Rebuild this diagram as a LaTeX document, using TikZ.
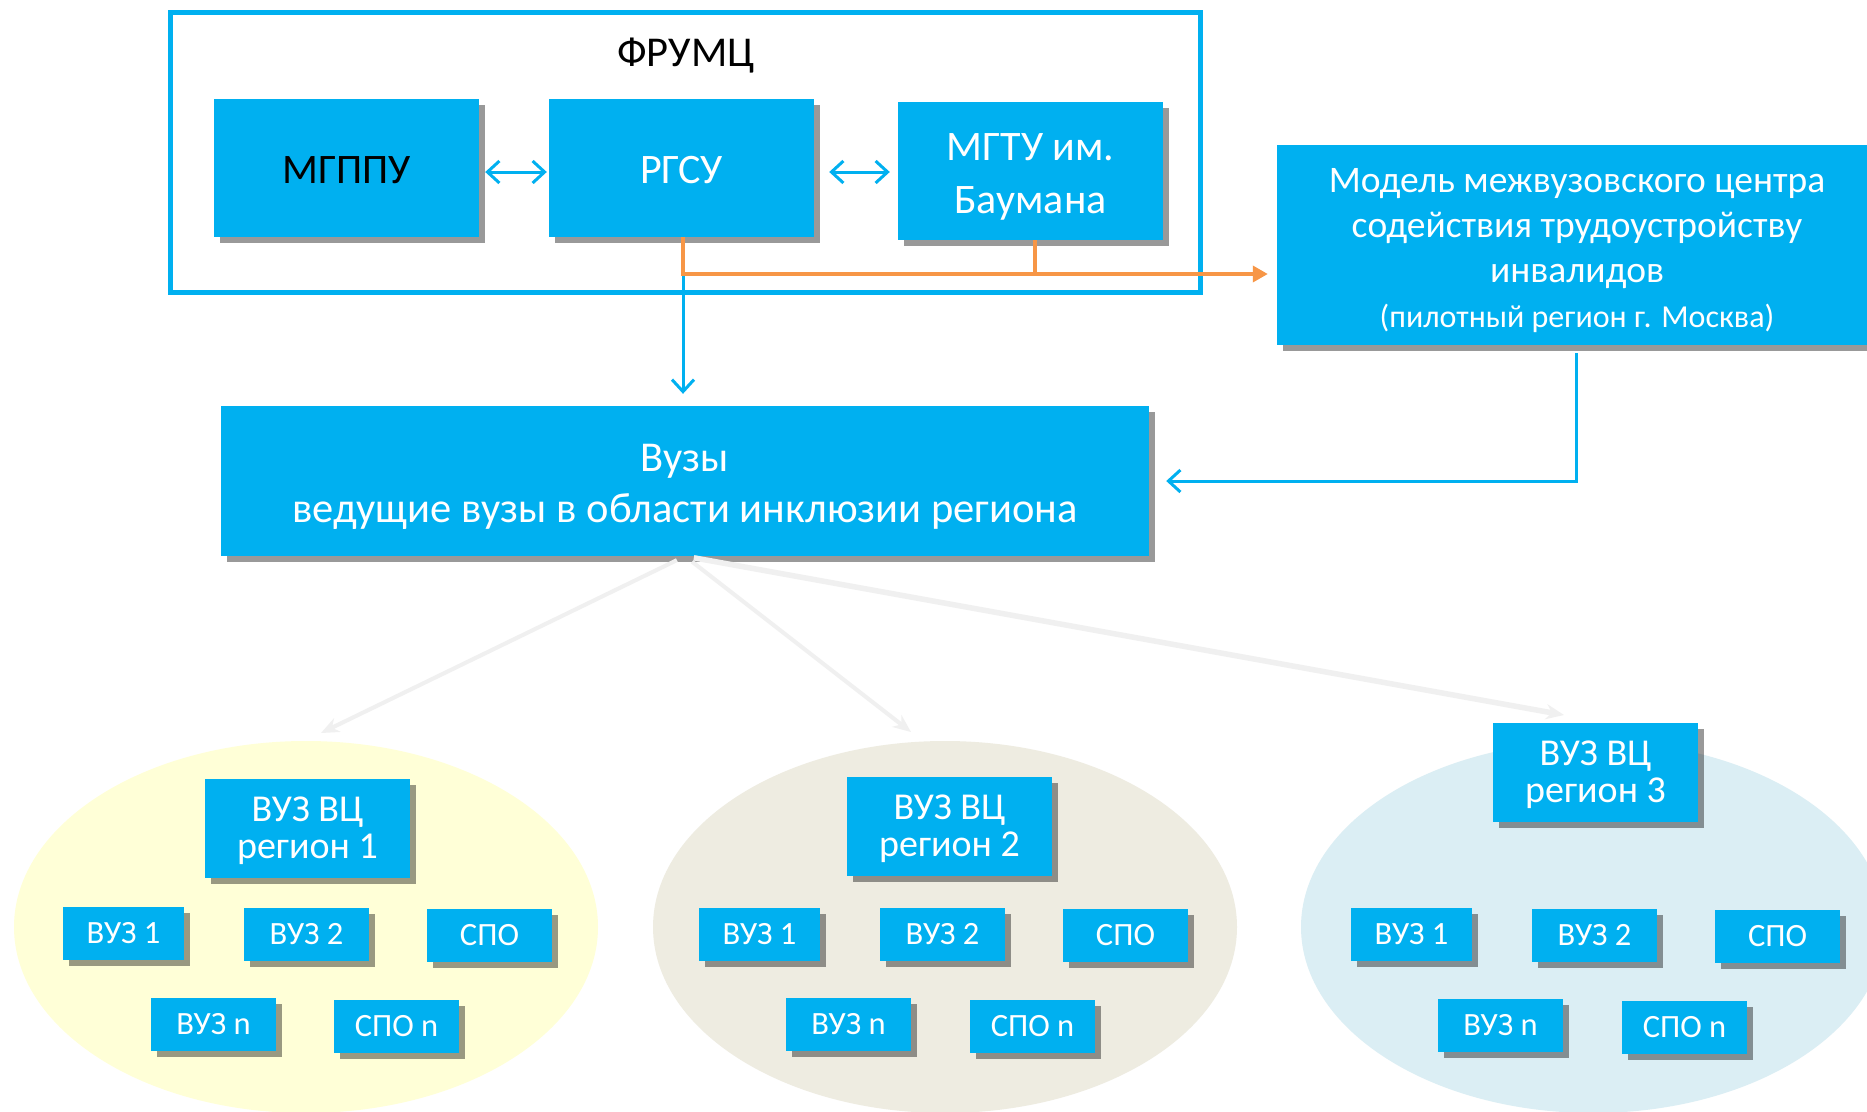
\documentclass[tikz,border=0pt]{standalone}
\usepackage{fontspec}
\setmainfont{Carlito}
\usetikzlibrary{arrows.meta,shadows,shapes.geometric}
\definecolor{boxblue}{HTML}{00B0F0}
\definecolor{orng}{HTML}{F79646}
\definecolor{ltgray}{HTML}{F0F0F0}
\definecolor{ellY}{HTML}{FFFFD7}
\definecolor{ellB}{HTML}{EEECE1}
\definecolor{ellC}{HTML}{DBEEF4}
\newcommand\fsz[2]{\fontsize{#1}{#2}\selectfont}
\newcommand\upstrut[1]{\rule{0pt}{#1}}
\begin{document}
\begin{tikzpicture}[x=1pt,y=-1pt,
 bbox/.style={fill=boxblue, inner sep=0pt, text=white, align=center,
   drop shadow={shadow xshift=6pt,shadow yshift=-6pt,fill=black,opacity=0.4}},
 smallbox/.style={bbox, minimum width=125pt, minimum height=53pt, font=\fsz{32.5}{38}},
 vcbox/.style={bbox, minimum width=205pt, minimum height=99pt, font=\fsz{38}{37}},
 unibox/.style={bbox, minimum width=265pt, minimum height=138pt, font=\fsz{42}{53}},
 regell/.style={ellipse, inner sep=0pt, minimum width=584pt, minimum height=372pt},
 blueline/.style={draw=boxblue, line width=3pt},
 barb/.style={-{Straight Barb[length=12pt,width=22pt,line width=3pt]}},
 dbl/.style={{Straight Barb[length=12pt,width=22pt,line width=3pt]}-{Straight Barb[length=12pt,width=22pt,line width=3pt]}},
 orline/.style={draw=orng, line width=3.5pt},
 grayarrow/.style={draw=ltgray, -{Stealth[length=18pt,width=15pt]}}
]
\useasboundingbox (0,0) rectangle (1867,1111);
\fill[white] (0,0) rectangle (1867,1111);
\clip (0,0) rectangle (1867,1111);

% region ellipses
\node[regell, fill=ellY] (reg1) at (306,927) {};
\node[regell, fill=ellB] (reg2) at (945,927) {};
\node[regell, fill=ellC] (reg3) at (1593,927) {};

% ФРУМЦ frame
\node[draw=boxblue, line width=5pt, minimum width=1030pt, minimum height=280pt, inner sep=0pt] (frame) at (685,152) {};
\node[font=\fsz{42.5}{50}, text=black] (frumc) at (686,56) {ФРУМЦ};

\node[unibox, text=black] (mgppu) at (346.5,168) {\upstrut{31pt}МГППУ};
\node[unibox] (rgsu) at (681.5,168) {\upstrut{31pt}РГСУ};
\node[unibox] (mgtu) at (1030.5,171) {\upstrut{38.5pt}МГТУ им.\\Баумана};

\node[bbox, minimum width=600pt, minimum height=200pt, font=\fsz{37.5}{45}] (model) at (1577,245)
 {\upstrut{36pt}Модель межвузовского центра\\содействия трудоустройству\\инвалидов\\{\fsz{32}{43}(пилотный регион г. Москва)}};

\node[bbox, minimum width=928pt, minimum height=150pt, font=\fsz{42.5}{51}] (vuzy) at (685,481)
 {\upstrut{39pt}Вузы\\ведущие вузы в области инклюзии региона};

% connectors at top
\draw[blueline, dbl, shorten <=6pt, shorten >=2pt] ([yshift=-4pt]mgppu.east) -- ([yshift=-4pt]rgsu.west);
\draw[blueline, dbl, shorten <=15pt, shorten >=8pt] ([yshift=-4pt]rgsu.east) -- ([yshift=-1pt]mgtu.west);
\draw[blueline, barb, shorten >=12pt] ([xshift=1.5pt]rgsu.south) -- ([xshift=1.5pt]rgsu.south |- vuzy.north);
\path ([yshift=-29pt]model.west) coordinate (obus);
\draw[orline, -{Triangle[length=15pt,width=16pt]}, shorten >=9pt] ([xshift=1.5pt]rgsu.south) |- (obus);
\draw[orline] ([xshift=4.5pt]mgtu.south) -- ([xshift=4.5pt]mgtu.south |- obus);
\draw[blueline, barb, shorten <=8pt, shorten >=17pt] ([xshift=-1pt]model.south) |- (vuzy.east);

% gray arrows to regions
\coordinate (t1) at (321,733);
\coordinate (t2) at (911,732);
\coordinate (t3) at (1564,715);
\draw[grayarrow, line width=4pt, shorten <=9pt] (vuzy.south) -- (t1);
\draw[grayarrow, line width=4pt, shorten <=9pt] (vuzy.south) -- (t2);
\draw[grayarrow, line width=5.5pt, shorten <=9pt] (vuzy.south) -- (t3);

% region 1
\node[vcbox] (vc1) at (307.5,828.5) {\upstrut{30pt}ВУЗ ВЦ\\регион 1};
\node[smallbox, minimum width=121pt] (r1a) at (123.5,933.5) {ВУЗ 1};
\node[smallbox] (r1b) at (306.5,934.5) {ВУЗ 2};
\node[smallbox] (r1c) at (489.5,935.5) {СПО};
\node[smallbox] (r1d) at (213.5,1024.5) {ВУЗ n};
\node[smallbox] (r1e) at (396.5,1026.5) {СПО n};

% region 2
\node[vcbox] (vc2) at (949.5,826.5) {\upstrut{30pt}ВУЗ ВЦ\\регион 2};
\node[smallbox, minimum width=121pt] (r2a) at (759.5,934.5) {ВУЗ 1};
\node[smallbox] (r2b) at (942.5,934.5) {ВУЗ 2};
\node[smallbox] (r2c) at (1125.5,935.5) {СПО};
\node[smallbox] (r2d) at (848.5,1024.5) {ВУЗ n};
\node[smallbox] (r2e) at (1032.5,1026.5) {СПО n};

% region 3
\node[vcbox] (vc3) at (1595.5,772.5) {\upstrut{30pt}ВУЗ ВЦ\\регион 3};
\node[smallbox, minimum width=121pt] (r3a) at (1411.5,934.5) {ВУЗ 1};
\node[smallbox] (r3b) at (1594.5,935.5) {ВУЗ 2};
\node[smallbox] (r3c) at (1777.5,936.5) {СПО};
\node[smallbox] (r3d) at (1500.5,1025.5) {ВУЗ n};
\node[smallbox] (r3e) at (1684.5,1027.5) {СПО n};
\end{tikzpicture}
\end{document}
